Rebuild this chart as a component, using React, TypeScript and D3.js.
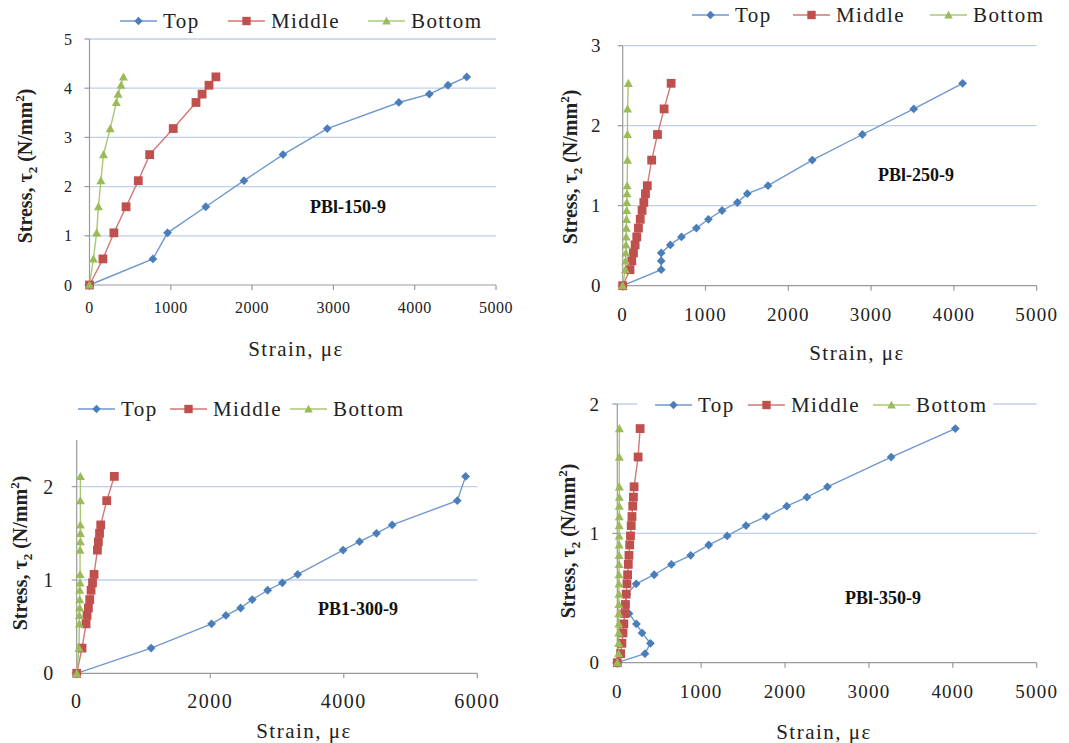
import React from 'react';
import * as d3 from 'd3';

// ---------- DATA ----------
const seriesNames = ['Top', 'Middle', 'Bottom'];

// Panel 1: PBl-150-9
const p1Stress = [0, 0.53, 1.06, 1.59, 2.12, 2.65, 3.18, 3.71, 3.88, 4.06, 4.23];
const p1Top = [0, 780, 960, 1430, 1900, 2380, 2925, 3805, 4180, 4410, 4640];
const p1Middle = [0, 165, 300, 450, 600, 740, 1030, 1310, 1385, 1470, 1555];
const p1Bottom = [0, 48, 88, 110, 140, 172, 255, 330, 352, 388, 418];

// Panel 2: PBl-250-9
const p2Stress = [0, 0.2, 0.31, 0.41, 0.51, 0.61, 0.72, 0.83, 0.94, 1.04, 1.15, 1.25, 1.57, 1.89, 2.21, 2.53];
const p2Top = [0, 465, 465, 465, 575, 710, 890, 1035, 1200, 1385, 1505, 1755, 2290, 2895, 3515, 4105];
const p2Middle = [0, 88, 110, 130, 150, 170, 190, 212, 234, 255, 275, 297, 350, 420, 500, 585];
const p2Bottom = [0, 32, 35, 38, 40, 42, 44, 46, 48, 50, 52, 54, 58, 58, 58, 68];

// Panel 3: PB1-300-9
const p3Stress = [0, 0.27, 0.53, 0.62, 0.7, 0.79, 0.89, 0.97, 1.06, 1.32, 1.41, 1.5, 1.59, 1.85, 2.11];
const p3Top = [0, 1115, 2020, 2235, 2455, 2630, 2860, 3080, 3310, 3990, 4235, 4490, 4725, 5700, 5825];
const p3Middle = [0, 80, 140, 155, 175, 195, 215, 237, 260, 310, 325, 342, 360, 450, 563];
const p3Bottom = [0, 35, 40, 40, 45, 45, 45, 50, 50, 50, 55, 55, 55, 55, 55];

// Panel 4: PBl-350-9
const p4Stress = [0, 0.07, 0.15, 0.23, 0.3, 0.38, 0.45, 0.53, 0.61, 0.68, 0.76, 0.83, 0.91, 0.98, 1.06, 1.13, 1.21, 1.28, 1.36, 1.59, 1.81];
const p4Top = [0, 330, 395, 295, 228, 140, 100, 115, 225, 440, 645, 875, 1090, 1310, 1535, 1775, 2020, 2260, 2505, 3265, 4030];
const p4Middle = [0, 40, 55, 68, 78, 88, 97, 106, 115, 123, 131, 139, 148, 157, 166, 175, 184, 192, 200, 248, 272];
const p4Bottom = [0, 15, 16, 17, 18, 18, 19, 19, 20, 20, 21, 21, 22, 22, 22, 23, 23, 24, 24, 24, 25];

const xTicks5000 = [0, 1000, 2000, 3000, 4000, 5000];
const xTicks6000 = [0, 2000, 4000, 6000];
const yTicks5 = [0, 1, 2, 3, 4, 5];
const yTicks3 = [0, 1, 2, 3];
const yTicks2 = [0, 1, 2];

const panelNames = ['PBl-150-9', 'PBl-250-9', 'PB1-300-9', 'PBl-350-9'];

// ---------- STYLE ----------
const FONT = '"Liberation Serif", "Times New Roman", Times, serif';
const markerColors = ['#4a7ebb', '#c0504d', '#9bbb59'];
const lineColors = ['#6f98cf', '#d27775', '#a9c873'];
const shapes = ['diamond', 'square', 'triangle'];
const gridColor = '#bfd0e8';
const axisColor = '#9a9a9a';

type PanelCfg = {
  name: string;
  stress: number[];
  series: number[][];
  xMax: number;
  yMax: number;
  xTicks: number[];
  yTicks: number[];
  box: { x0: number; x1: number; y0: number; y1: number };
  tickFont: number;
  tickSpacing: number;
  yLabelOff: number;
  xLabelOff: number;
  legendX: number[];
  legendY: number;
  legendBg?: [number, number];
  yTitle: [number, number];
  xTitle: [number, number];
  nameAt: [number, number];
};

const panels: PanelCfg[] = [
  {
    name: panelNames[0], stress: p1Stress, series: [p1Top, p1Middle, p1Bottom],
    xMax: 5000, yMax: 5, xTicks: xTicks5000, yTicks: yTicks5,
    box: { x0: 89.5, x1: 496, y0: 285, y1: 39 },
    tickFont: 16, tickSpacing: 0.5, yLabelOff: 17, xLabelOff: 22,
    legendX: [120, 228, 368], legendY: 21,
    yTitle: [25, 166], xTitle: [296, 349], nameAt: [348, 207],
  },
  {
    name: panelNames[1], stress: p2Stress, series: [p2Top, p2Middle, p2Bottom],
    xMax: 5000, yMax: 3, xTicks: xTicks5000, yTicks: yTicks3,
    box: { x0: 622.7, x1: 1036.7, y0: 285.7, y1: 45.7 },
    tickFont: 19, tickSpacing: 1.2, yLabelOff: 21, xLabelOff: 29,
    legendX: [692, 793, 930], legendY: 15,
    yTitle: [570, 167], xTitle: [857, 353], nameAt: [916, 175],
  },
  {
    name: panelNames[2], stress: p3Stress, series: [p3Top, p3Middle, p3Bottom],
    xMax: 6000, yMax: 2.5, xTicks: xTicks6000, yTicks: yTicks2,
    box: { x0: 76.7, x1: 477.3, y0: 673.3, y1: 440 },
    tickFont: 20, tickSpacing: 1.5, yLabelOff: 22, xLabelOff: 28,
    legendX: [78, 170, 290], legendY: 409,
    yTitle: [20, 553], xTitle: [304, 731], nameAt: [358, 609],
  },
  {
    name: panelNames[3], stress: p4Stress, series: [p4Top, p4Middle, p4Bottom],
    xMax: 5000, yMax: 2, xTicks: xTicks5000, yTicks: yTicks2,
    box: { x0: 617.3, x1: 1036.7, y0: 662.7, y1: 404 },
    tickFont: 19, tickSpacing: 1.2, yLabelOff: 17, xLabelOff: 29,
    legendX: [655, 748, 873], legendY: 405, legendBg: [637, 993],
    yTitle: [568, 541], xTitle: [824, 732], nameAt: [883, 598],
  },
];

function Marker({ shape, x, y, fill, scale = 1 }: { shape: string; x: number; y: number; fill: string; scale?: number }) {
  if (shape === 'diamond') {
    const r = 4.4 * scale;
    return <polygon points={`${x},${y - r} ${x + r},${y} ${x},${y + r} ${x - r},${y}`} fill={fill} />;
  }
  if (shape === 'square') {
    const s = 4.4 * scale;
    return <rect x={x - s} y={y - s} width={2 * s} height={2 * s} fill={fill} />;
  }
  const r = 4.5 * scale;
  return <polygon points={`${x},${y - r} ${x + r},${y + r * 0.8} ${x - r},${y + r * 0.8}`} fill={fill} />;
}

function Panel({ p }: { p: PanelCfg }) {
  const x = d3.scaleLinear().domain([0, p.xMax]).range([p.box.x0, p.box.x1]);
  const y = d3.scaleLinear().domain([0, p.yMax]).range([p.box.y0, p.box.y1]);
  const line = d3.line<[number, number]>().x(d => x(d[0])).y(d => y(d[1]));
  const gridVals = p.yTicks.filter(v => v > 0);
  return (
    <g fontFamily={FONT}>
      {gridVals.map(v => (
        <line key={'g' + v} x1={x(0)} x2={x(p.xMax)} y1={y(v)} y2={y(v)} stroke={gridColor} strokeWidth={1.3} />
      ))}
      <line x1={x(0)} x2={x(0)} y1={y(0)} y2={y(p.yMax)} stroke={axisColor} strokeWidth={1.2} />
      <line x1={x(0)} x2={x(p.xMax)} y1={y(0)} y2={y(0)} stroke={axisColor} strokeWidth={1.2} />
      {p.yTicks.map(v => (
        <g key={'yt' + v}>
          <line x1={x(0) - 5} x2={x(0)} y1={y(v)} y2={y(v)} stroke={axisColor} strokeWidth={1.2} />
          <text x={x(0) - p.yLabelOff} y={y(v)} dy="0.35em" textAnchor="end" fontSize={p.tickFont}
            letterSpacing={p.tickSpacing} fill="#222">{v}</text>
        </g>
      ))}
      {p.xTicks.map(v => (
        <g key={'xt' + v}>
          <line x1={x(v)} x2={x(v)} y1={y(0)} y2={y(0) + 5} stroke={axisColor} strokeWidth={1.2} />
          <text x={x(v)} y={y(0) + p.xLabelOff} dy="0.35em" textAnchor="middle" fontSize={p.tickFont}
            letterSpacing={p.tickSpacing} fill="#222">{v}</text>
        </g>
      ))}
      {p.series.map((vals, si) => {
        const pts: [number, number][] = vals.map((v, i) => [v, p.stress[i]]);
        return <path key={'s' + si} d={line(pts) || ''} fill="none" stroke={lineColors[si]} strokeWidth={1.4} />;
      })}
      {p.series.map((vals, si) => (
        <g key={'m' + si}>
          {vals.map((v, i) => (
            <Marker key={i} shape={shapes[si]} x={x(v)} y={y(p.stress[i])} fill={markerColors[si]} />
          ))}
        </g>
      ))}
      <text x={p.nameAt[0]} y={p.nameAt[1]} dy="0.35em" textAnchor="middle" fontSize={18} fontWeight="bold" fill="#111">
        {p.name}
      </text>
      {p.legendBg && (
        <rect x={p.legendBg[0]} y={p.legendY - 12} width={p.legendBg[1] - p.legendBg[0]} height={24} fill="#fff" />
      )}
      {seriesNames.map((n, si) => (
        <g key={'l' + si}>
          <line x1={p.legendX[si]} x2={p.legendX[si] + 37} y1={p.legendY} y2={p.legendY} stroke={lineColors[si]} strokeWidth={1.6} />
          <Marker shape={shapes[si]} x={p.legendX[si] + 18.5} y={p.legendY} fill={markerColors[si]} scale={0.95} />
          <text x={p.legendX[si] + 43} y={p.legendY} dy="0.35em" fontSize={21} letterSpacing={1.4} fill="#222">{n}</text>
        </g>
      ))}
      <text transform={`translate(${p.yTitle[0]},${p.yTitle[1]}) rotate(-90)`} textAnchor="middle" dy="0.35em"
        fontSize={20} fontWeight="bold" fill="#222">
        Stress, τ<tspan fontSize={13} dy={5}>2</tspan><tspan dy={-5}> (N/mm</tspan><tspan fontSize={13} dy={-8}>2</tspan><tspan dy={8}>)</tspan>
      </text>
      <text x={p.xTitle[0]} y={p.xTitle[1]} dy="0.35em" textAnchor="middle" fontSize={21} letterSpacing={1.5} fill="#222">
        Strain, με
      </text>
    </g>
  );
}

export default function App() {
  return (
    <svg width={1069} height={743} style={{ position: 'absolute', left: 0, top: 0, background: '#fff' }}>
      <rect width={1069} height={743} fill="#fff" />
      {panels.map(p => <Panel key={p.name} p={p} />)}
    </svg>
  );
}
